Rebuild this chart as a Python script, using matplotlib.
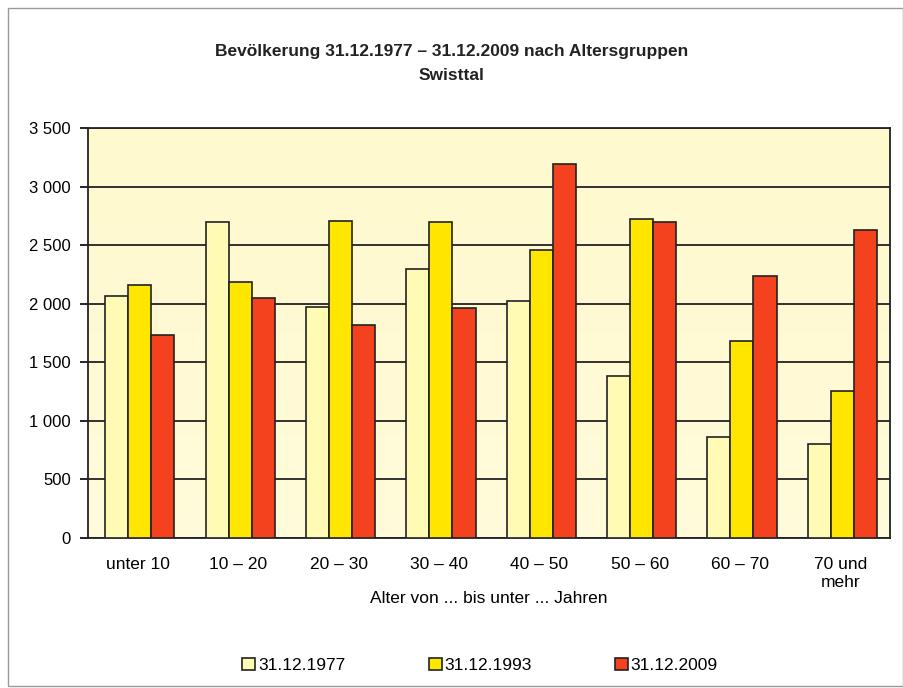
import numpy as np
import matplotlib.pyplot as plt
from matplotlib.patches import Rectangle
from matplotlib.colors import LinearSegmentedColormap

plt.rcParams['font.family'] = ['Liberation Sans', 'DejaVu Sans']

# Age groups and population per reference date
groups = ['unter 10', '10 – 20', '20 – 30', '30 – 40', '40 – 50',
          '50 – 60', '60 – 70', '70 und\nmehr']
pop_1977 = [2070, 2700, 1970, 2300, 2020, 1380, 860, 805]
pop_1993 = [2160, 2185, 2705, 2700, 2455, 2725, 1680, 1255]
pop_2009 = [1730, 2045, 1815, 1965, 3190, 2695, 2235, 2625]
series_labels = ['31.12.1977', '31.12.1993', '31.12.2009']
colors = ['#FFFBB4', '#FFE600', '#F4421E']

fig = plt.figure(figsize=(9.04, 6.88), dpi=100)
ax = fig.add_axes([0.097, 0.218, 0.888, 0.596])

# frame around the whole chart
fig.patches.append(Rectangle((0.009, 0.003), 0.99, 0.985, transform=fig.transFigure,
                             fill=False, edgecolor='#9a9a9a', linewidth=1.0))

# pale yellow plot background with a slight gradient
grad = np.linspace(0, 1, 256).reshape(-1, 1)
bg = LinearSegmentedColormap.from_list('bg', ['#FFFBDA', '#FFF9CE'])
ax.imshow(grad, cmap=bg, aspect='auto', extent=[-0.5, 7.5, 0, 3500],
          origin='lower', zorder=0)

x = np.arange(len(groups))
w = 0.23
for i, (vals, c, lab) in enumerate(zip([pop_1977, pop_1993, pop_2009], colors, series_labels)):
    ax.bar(x + (i - 1) * w + 0.02, vals, width=w, color=c, edgecolor='#222222',
           linewidth=1.2, label=lab, zorder=3)

ax.set_xlim(-0.5, 7.5)
ax.set_ylim(0, 3500)
ax.set_yticks(range(0, 3501, 500))
ax.set_yticklabels([f'{v:,}'.replace(',', ' ') for v in range(0, 3501, 500)])
ax.yaxis.grid(True, color='#222222', linewidth=1.3, zorder=1)
ax.set_axisbelow(True)
ax.set_xticks(x)
ax.set_xticklabels(groups, fontsize=12.5)
ax.tick_params(axis='x', length=0, pad=14)
ax.tick_params(axis='y', length=6, width=1.2, labelsize=12, pad=6)
for s in ax.spines.values():
    s.set_color('#222222')
    s.set_linewidth(1.3)

ax.set_xlabel('Alter von ... bis unter ... Jahren', fontsize=12.5, labelpad=1)

fig.text(0.5, 0.908, 'Bevölkerung 31.12.1977 – 31.12.2009 nach Altersgruppen\nSwisttal',
         ha='center', va='center', fontsize=12.5, fontweight='bold',
         linespacing=1.75, color='#222222')

fig.legend(loc='center', bbox_to_anchor=(0.531, 0.033), ncol=3, frameon=False,
           fontsize=12.5, handlelength=0.75, handleheight=0.75, handletextpad=0.15,
           columnspacing=4.8)

fig.savefig('out.png', dpi=100, facecolor='white')
